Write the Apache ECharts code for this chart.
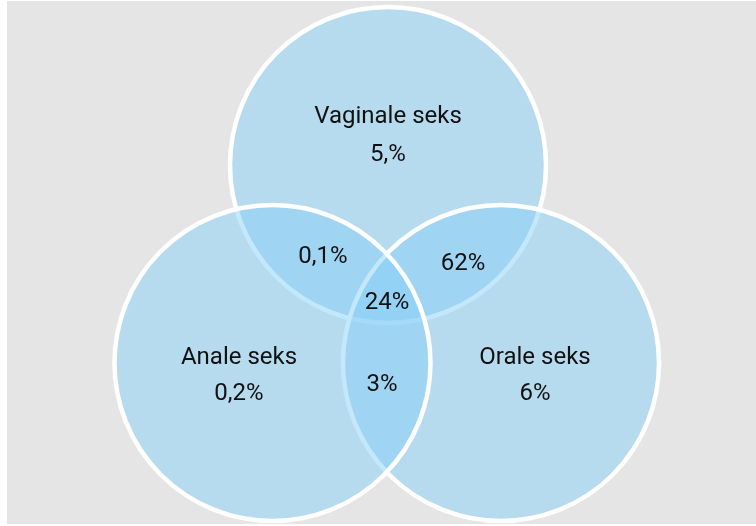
<!DOCTYPE html>
<html>
<head>
<meta charset="utf-8">
<script src="https://cdn.jsdelivr.net/npm/echarts@6/dist/echarts.min.js"></script>
<style>
html,body{margin:0;padding:0;background:#ffffff;}
#chart{width:756px;height:526px;}
</style>
</head>
<body>
<div id="chart"></div>
<script>
// ---- data ----
const setNames = ['Vaginale seks', 'Orale seks', 'Anale seks'];
const setValues = ['5,%', '6%', '0,2%'];
const overlapNames = ['Vaginale+Anale', 'Vaginale+Orale', 'Alle drie', 'Anale+Orale'];
const overlapValues = ['0,1%', '62%', '24%', '3%'];

// ---- layout (pixel-like data units on hidden axes) ----
const circleCenters = [[388, 165], [501, 363], [272.5, 363]];
const circleRadius = 158;
const setLabelPos = [[388, 116.5], [535, 357.5], [239, 357.5]];
const setValuePos = [[388, 154.5], [535, 393.5], [239, 394]];
const overlapPos = [[323, 257], [463, 264], [387, 303], [382, 385]];

const chart = echarts.init(document.getElementById('chart'), null, {renderer: 'canvas'});

const circleData = circleCenters.map((c, i) => [c[0], c[1], circleRadius, i]);
const textData = [];
setNames.forEach((n, i) => textData.push([setLabelPos[i][0], setLabelPos[i][1], n]));
setValues.forEach((v, i) => textData.push([setValuePos[i][0], setValuePos[i][1], v]));
overlapValues.forEach((v, i) => textData.push([overlapPos[i][0], overlapPos[i][1], v]));

const font = 'Roboto, "Noto Sans", sans-serif';

chart.setOption({
  animation: false,
  backgroundColor: '#ffffff',
  graphic: [{
    type: 'rect', z: -10, silent: true,
    shape: {x: 7, y: 1, width: 749, height: 523},
    style: {fill: '#e5e5e5'}
  }],
  grid: {left: 0, right: 0, top: 0, bottom: 0},
  xAxis: {type: 'value', min: 0, max: 756, show: false},
  yAxis: {type: 'value', min: 0, max: 526, inverse: true, show: false},
  series: [
    {
      type: 'custom',
      coordinateSystem: 'cartesian2d',
      data: circleData,
      z: 2,
      renderItem: function (params, api) {
        const p = api.coord([api.value(0), api.value(1)]);
        const r = api.size([api.value(2), 0])[0];
        return {
          type: 'circle',
          shape: {cx: p[0], cy: p[1], r: r},
          style: {fill: 'rgba(135,207,247,0.5)', stroke: '#ffffff', lineWidth: 4.5}
        };
      }
    },
    {
      type: 'custom',
      coordinateSystem: 'cartesian2d',
      data: textData,
      z: 5,
      renderItem: function (params, api) {
        const p = api.coord([api.value(0), api.value(1)]);
        return {
          type: 'text',
          x: p[0], y: p[1],
          style: {
            text: textData[params.dataIndex][2],
            fill: '#111111',
            font: '24px ' + font,
            align: 'center',
            verticalAlign: 'middle'
          }
        };
      }
    }
  ]
});
</script>
</body>
</html>
